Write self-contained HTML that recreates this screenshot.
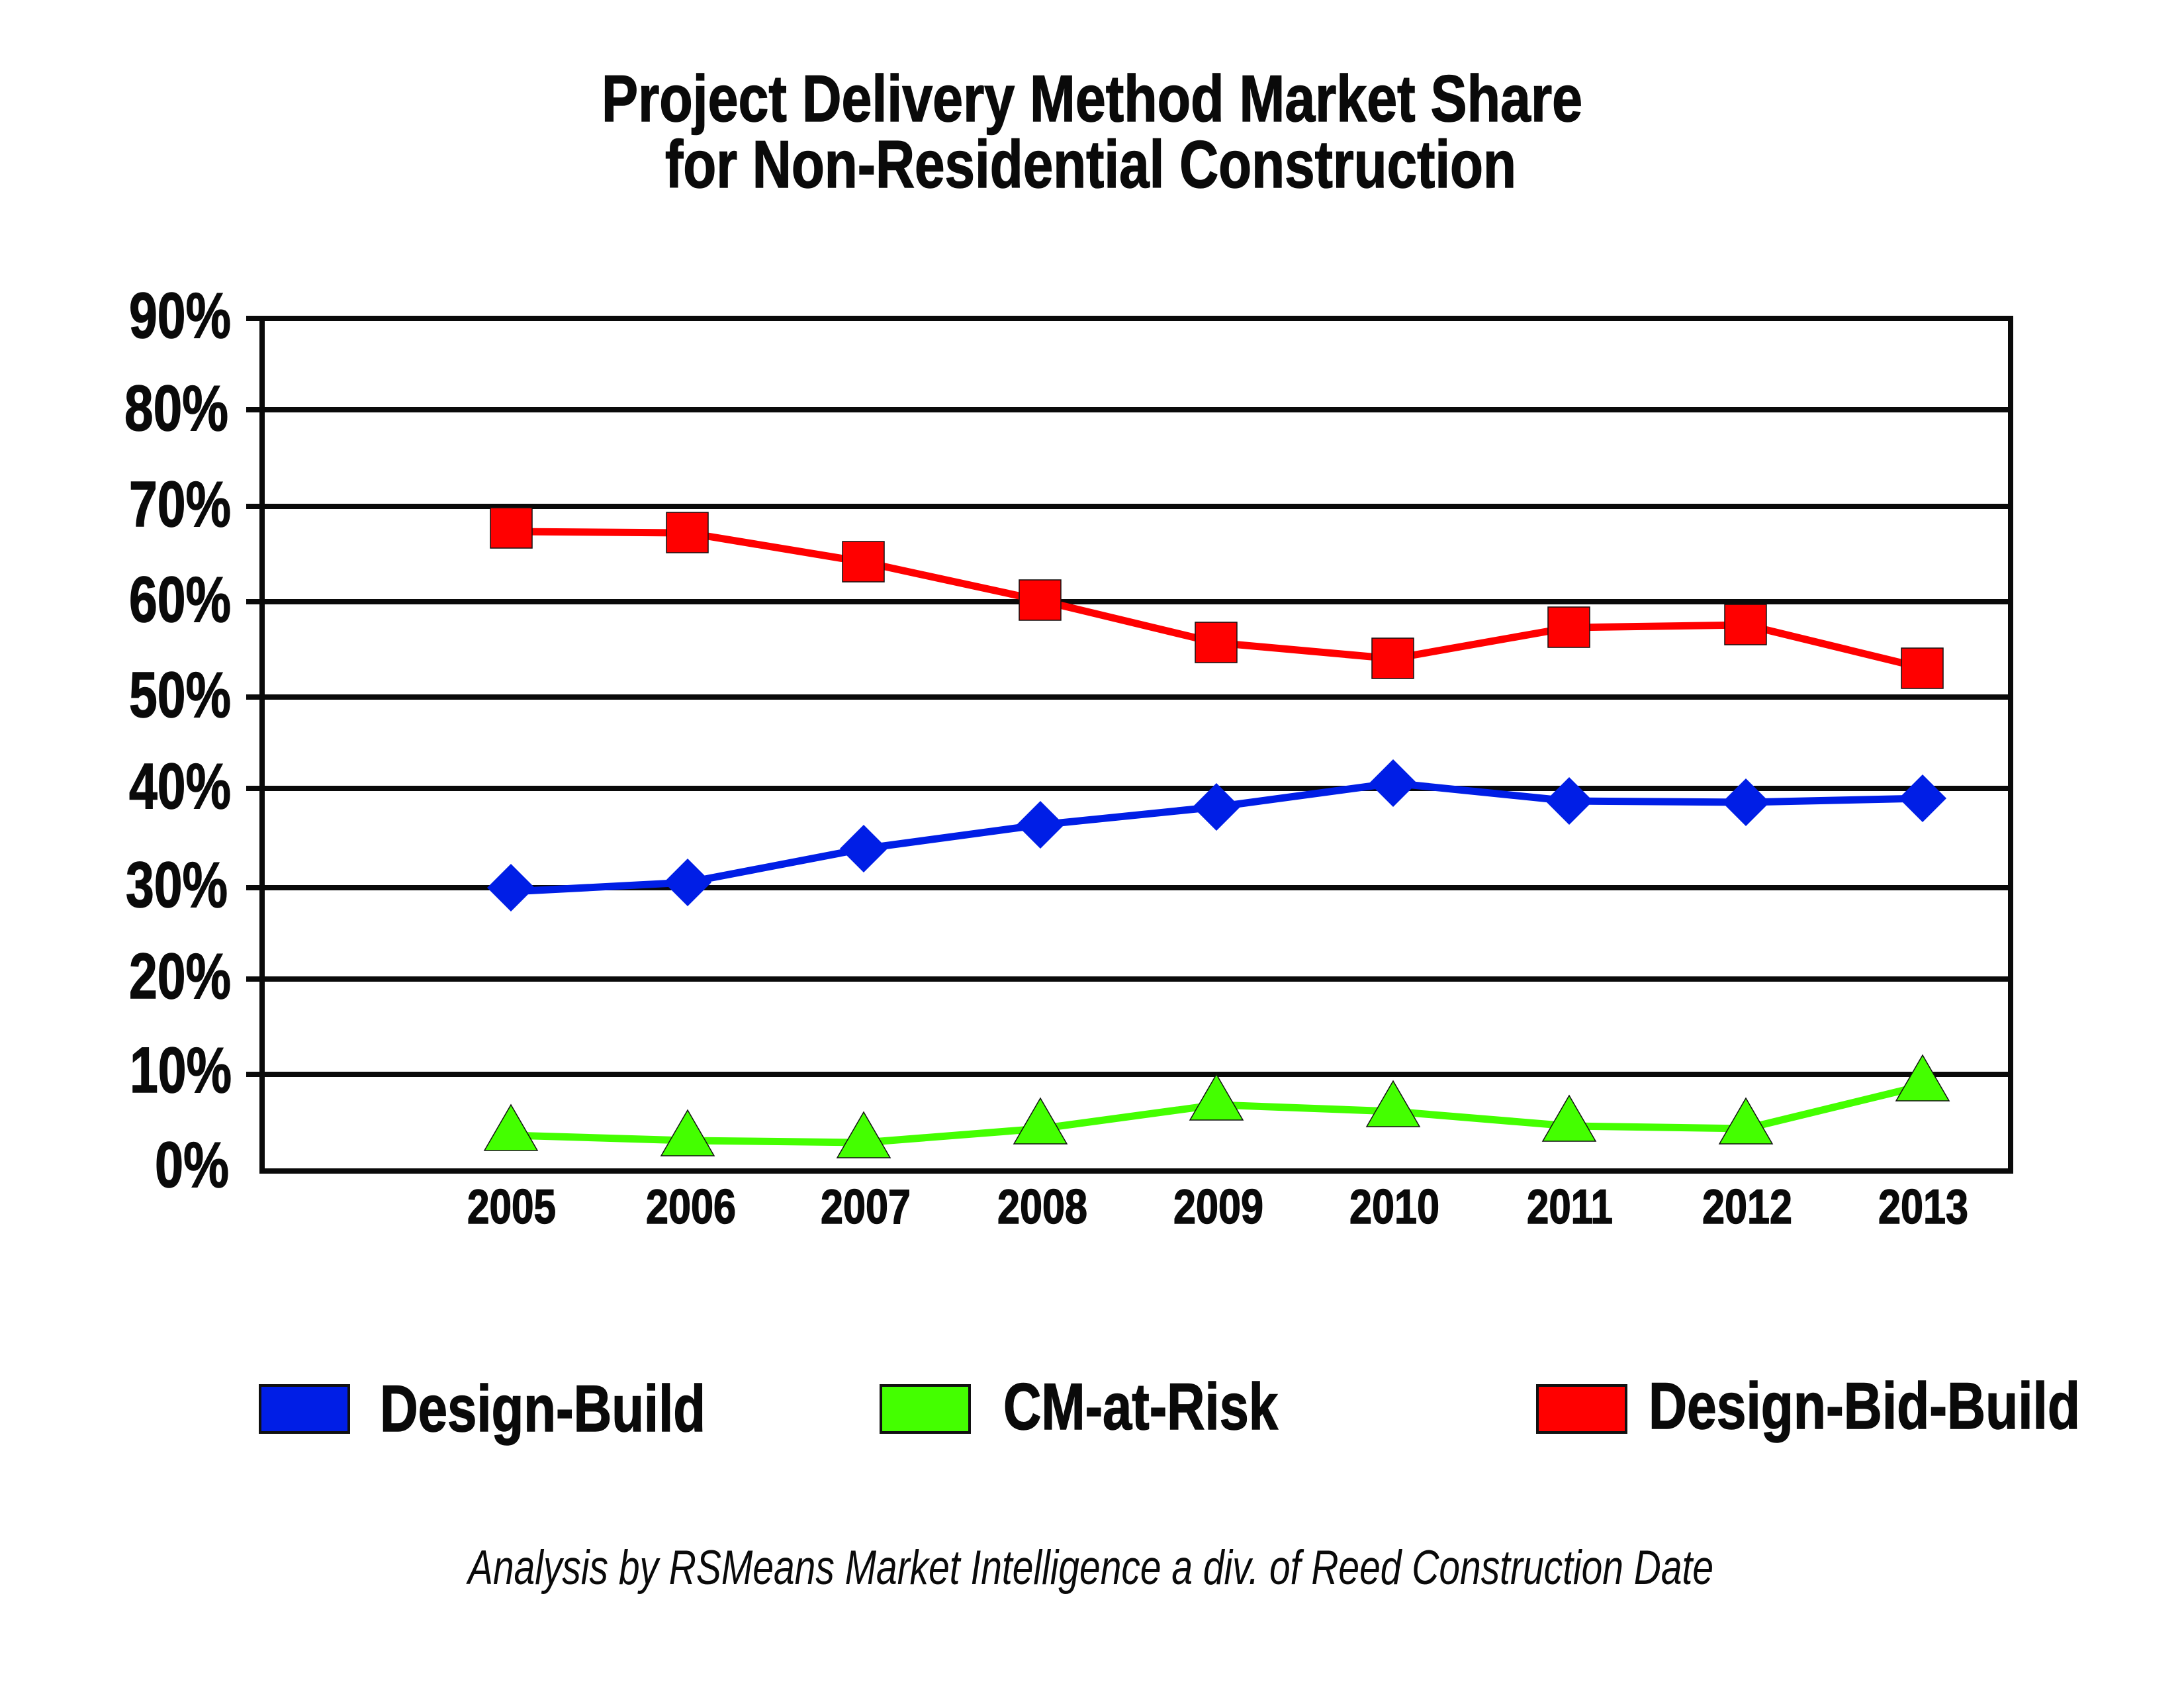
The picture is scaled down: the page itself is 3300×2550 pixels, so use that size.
<!DOCTYPE html>
<html>
<head>
<meta charset="utf-8">
<style>
  html, body { margin: 0; padding: 0; background: #ffffff; }
  body { width: 3300px; height: 2550px; overflow: hidden; }
  svg { display: block; }
  .t { font-family: "Liberation Sans Narrow", "Liberation Sans", sans-serif; font-weight: bold; fill: #0a0a0a; stroke: #0a0a0a; stroke-width: 1.5; }
  .f { font-family: "Liberation Sans Narrow", "Liberation Sans", sans-serif; font-style: italic; fill: #0a0a0a; }
</style>
</head>
<body>
<svg width="3300" height="2550" viewBox="0 0 3300 2550" xmlns="http://www.w3.org/2000/svg">
  <rect x="0" y="0" width="3300" height="2550" fill="#ffffff"/>

  <!-- Title -->
  <text class="t" x="909" y="183" font-size="99" textLength="1482" lengthAdjust="spacingAndGlyphs">Project Delivery Method Market Share</text>
  <text class="t" x="1005" y="283" font-size="101" textLength="1286" lengthAdjust="spacingAndGlyphs">for Non-Residential Construction</text>

  <!-- Gridlines -->
  <g stroke="#0a0a0a" stroke-width="8" fill="none">
    <line x1="372" y1="481" x2="3042" y2="481"/>
    <line x1="372" y1="619" x2="3042" y2="619"/>
    <line x1="372" y1="765" x2="3042" y2="765"/>
    <line x1="372" y1="909" x2="3042" y2="909"/>
    <line x1="372" y1="1053" x2="3042" y2="1053"/>
    <line x1="372" y1="1191" x2="3042" y2="1191"/>
    <line x1="372" y1="1341" x2="3042" y2="1341"/>
    <line x1="372" y1="1479" x2="3042" y2="1479"/>
    <line x1="372" y1="1623" x2="3042" y2="1623"/>
    <line x1="392" y1="1769" x2="3042" y2="1769"/>
    <!-- axes -->
    <line x1="396" y1="477" x2="396" y2="1773"/>
    <line x1="3038" y1="477" x2="3038" y2="1773"/>
  </g>

  <!-- Y labels -->
  <g class="t" font-size="97" text-anchor="end">
    <text x="349" y="510" textLength="154" lengthAdjust="spacingAndGlyphs">90%</text>
    <text x="345" y="650" textLength="157" lengthAdjust="spacingAndGlyphs">80%</text>
    <text x="349" y="795" textLength="154" lengthAdjust="spacingAndGlyphs">70%</text>
    <text x="349" y="939" textLength="154" lengthAdjust="spacingAndGlyphs">60%</text>
    <text x="349" y="1083" textLength="154" lengthAdjust="spacingAndGlyphs">50%</text>
    <text x="349" y="1221" textLength="154" lengthAdjust="spacingAndGlyphs">40%</text>
    <text x="344" y="1370" textLength="154" lengthAdjust="spacingAndGlyphs">30%</text>
    <text x="349" y="1508" textLength="154" lengthAdjust="spacingAndGlyphs">20%</text>
    <text x="350" y="1650" textLength="154" lengthAdjust="spacingAndGlyphs">10%</text>
    <text x="346" y="1793" textLength="112" lengthAdjust="spacingAndGlyphs">0%</text>
  </g>

  <!-- X labels -->
  <g class="t" font-size="73" text-anchor="middle">
    <text x="773" y="1848" textLength="134" lengthAdjust="spacingAndGlyphs">2005</text>
    <text x="1044" y="1848" textLength="136" lengthAdjust="spacingAndGlyphs">2006</text>
    <text x="1308" y="1848" textLength="136" lengthAdjust="spacingAndGlyphs">2007</text>
    <text x="1575" y="1848" textLength="136" lengthAdjust="spacingAndGlyphs">2008</text>
    <text x="1841" y="1848" textLength="136" lengthAdjust="spacingAndGlyphs">2009</text>
    <text x="2107" y="1848" textLength="136" lengthAdjust="spacingAndGlyphs">2010</text>
    <text x="2372" y="1848" textLength="130" lengthAdjust="spacingAndGlyphs">2011</text>
    <text x="2640" y="1848" textLength="136" lengthAdjust="spacingAndGlyphs">2012</text>
    <text x="2906" y="1848" textLength="136" lengthAdjust="spacingAndGlyphs">2013</text>
  </g>

  <!-- Series lines -->
  <polyline fill="none" stroke="#ff0000" stroke-width="11" stroke-linejoin="round"
    points="772,803 1039,805 1305,849 1572,907 1838,971 2105,995 2371,948 2638,944 2905,1009"/>
  <polyline fill="none" stroke="#001ee6" stroke-width="11" stroke-linejoin="round"
    points="772,1347 1039,1333 1305,1282 1572,1246 1838,1219 2105,1183 2371,1210 2638,1212 2905,1206"/>
  <polyline fill="none" stroke="#44ff00" stroke-width="11" stroke-linejoin="round"
    points="772,1715 1039,1723 1305,1726 1572,1705 1838,1669 2105,1679 2371,1701 2638,1705 2905,1640"/>

  <!-- Red squares -->
  <g fill="#ff0000" stroke="#111" stroke-width="1.5">
    <rect x="741" y="767" width="63" height="61"/>
    <rect x="1007" y="774" width="63" height="61"/>
    <rect x="1273" y="818" width="63" height="61"/>
    <rect x="1540" y="876" width="63" height="61"/>
    <rect x="1806" y="940" width="63" height="61"/>
    <rect x="2073" y="964" width="63" height="61"/>
    <rect x="2339" y="917" width="63" height="61"/>
    <rect x="2606" y="913" width="63" height="61"/>
    <rect x="2873" y="979" width="63" height="61"/>
  </g>

  <!-- Blue diamonds -->
  <g fill="#001ee6">
    <polygon points="772,1305 808,1341 772,1377 736,1341"/>
    <polygon points="1039,1297 1075,1333 1039,1369 1003,1333"/>
    <polygon points="1305,1246 1341,1282 1305,1318 1269,1282"/>
    <polygon points="1572,1210 1608,1246 1572,1282 1536,1246"/>
    <polygon points="1838,1183 1874,1219 1838,1255 1802,1219"/>
    <polygon points="2105,1147 2141,1183 2105,1219 2069,1183"/>
    <polygon points="2371,1174 2407,1210 2371,1246 2335,1210"/>
    <polygon points="2638,1176 2674,1212 2638,1248 2602,1212"/>
    <polygon points="2905,1170 2941,1206 2905,1242 2869,1206"/>
  </g>

  <!-- Green triangles -->
  <g fill="#44ff00" stroke="#111" stroke-width="1.5" stroke-linejoin="miter">
    <polygon points="772,1669 812,1738 732,1738"/>
    <polygon points="1039,1677 1079,1746 999,1746"/>
    <polygon points="1305,1680 1345,1749 1265,1749"/>
    <polygon points="1572,1659 1612,1728 1532,1728"/>
    <polygon points="1838,1623 1878,1692 1798,1692"/>
    <polygon points="2105,1633 2145,1702 2065,1702"/>
    <polygon points="2371,1655 2411,1724 2331,1724"/>
    <polygon points="2638,1659 2678,1728 2598,1728"/>
    <polygon points="2905,1594 2945,1663 2865,1663"/>
  </g>

  <!-- Legend -->
  <rect x="393" y="2093" width="134" height="71" fill="#001ee6" stroke="#111" stroke-width="4"/>
  <text class="t" x="574" y="2162" font-size="99" textLength="492" lengthAdjust="spacingAndGlyphs">Design-Build</text>

  <rect x="1331" y="2093" width="134" height="71" fill="#44ff00" stroke="#111" stroke-width="4"/>
  <text class="t" x="1516" y="2159" font-size="99" textLength="415" lengthAdjust="spacingAndGlyphs">CM-at-Risk</text>

  <rect x="2323" y="2093" width="134" height="71" fill="#ff0000" stroke="#111" stroke-width="4"/>
  <text class="t" x="2491" y="2158" font-size="99" textLength="652" lengthAdjust="spacingAndGlyphs">Design-Bid-Build</text>

  <!-- Footer -->
  <text class="f" x="707" y="2393" font-size="73" textLength="1882" lengthAdjust="spacingAndGlyphs">Analysis by RSMeans Market Intelligence a div. of Reed Construction Date</text>
</svg>
</body>
</html>
